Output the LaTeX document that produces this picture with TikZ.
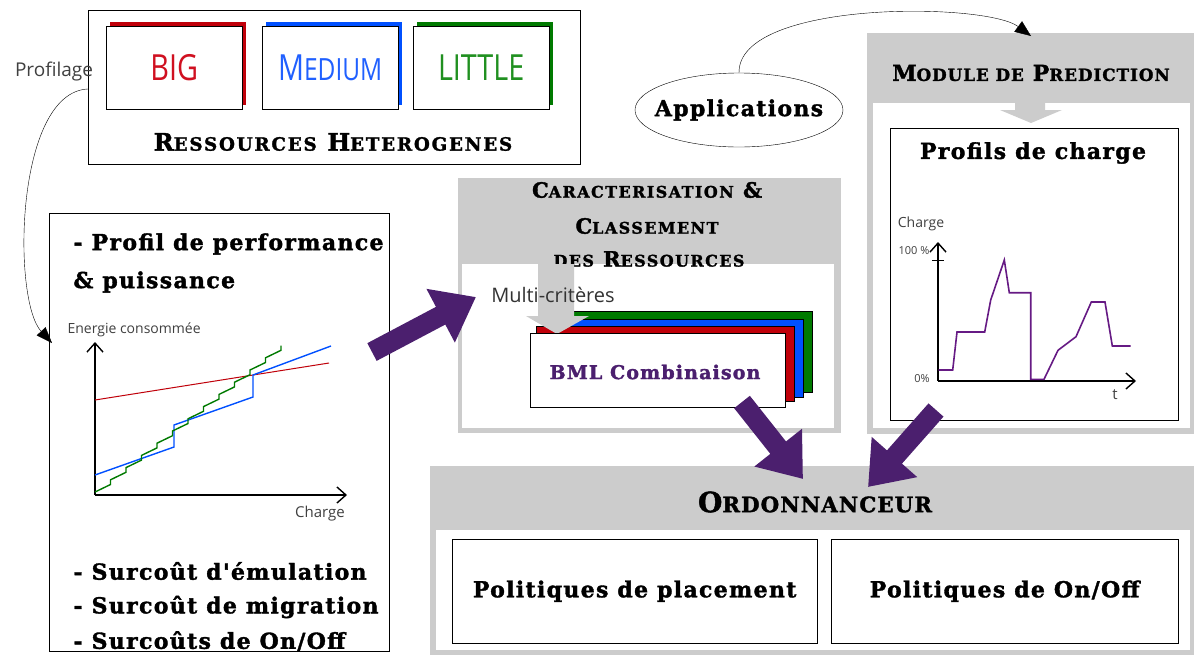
\documentclass[tikz,border=0pt]{standalone}
\usepackage{fontspec}
\usepackage{graphicx}
\usetikzlibrary{shapes.geometric,arrows.meta}
\newfontfamily\heavy{DejaVu Serif}[BoldFeatures={FakeBold=1.6}]
\newfontfamily\lite{Open Sans}
\definecolor{grayblk}{HTML}{CCCCCC}
\definecolor{purp}{HTML}{4B1F6E}
\definecolor{cred}{HTML}{C0000A}
\definecolor{cblue}{HTML}{0050FF}
\definecolor{cgreen}{HTML}{007A00}
\definecolor{tred}{HTML}{D01020}
\definecolor{tblue}{HTML}{2060FF}
\definecolor{tgreen}{HTML}{209020}
\definecolor{ltext}{HTML}{404040}
\newcommand\SCx[2]{#1\scalebox{0.76}{#2}}
\newcommand\hv[2]{\heavy\bfseries\fontsize{#1}{#1}\selectfont\addfontfeature{LetterSpace=#2}}
\tikzset{
  box/.style={draw, inner sep=0pt, anchor=north west, fill=white},
  litetxt/.style={font=\lite, text=ltext},
  bigarrow/.style={line width=20pt, purp, -{Triangle[length=40pt,width=58pt]}},
}
\begin{document}
\begin{tikzpicture}[x=1pt,y=-1pt]
\useasboundingbox (0,0) rectangle (1194,654);
% ---------- Ressources heterogenes
\node[box, minimum width=492pt, minimum height=154pt] (res) at (88,10) {};
\fill[cred] (110,22) rectangle (246,105);
\node[box, minimum width=136pt, minimum height=83pt] (big) at (106,26) {};
\fill[cblue] (266,22) rectangle (402,105);
\node[box, minimum width=136pt, minimum height=83pt] (med) at (262,26) {};
\fill[cgreen] (417,22) rectangle (553,105);
\node[box, minimum width=136pt, minimum height=83pt] (lit) at (413,26) {};
\node[font=\lite\fontsize{36}{36}\selectfont, text=tred] at (big.center) {\scalebox{0.8}[1]{BIG}};
\node[font=\lite\fontsize{36}{36}\selectfont, text=tblue] at (med.center) {\scalebox{0.8}[1]{M\scalebox{0.85}{EDIUM}}};
\node[font=\lite\fontsize{36}{36}\selectfont, text=tgreen] at (lit.center) {\scalebox{0.8}[1]{LITTLE}};
\node[font=\hv{24}{10}] at (333,142) {\SCx{R}{ESSOURCES} \SCx{H}{ETEROGENES}};
\node[litetxt, font=\lite\fontsize{19}{19}\selectfont] (prof) at (54,72) {Profilage};
% ---------- left box
\node[box, minimum width=340pt, minimum height=438pt] (left) at (49,213) {};
\begin{scope}[font=\hv{22}{6}]
\node[anchor=west] at (70,244) {- Profil de performance};
\node[anchor=west] at (70,282) {\& puissance};
\node[anchor=west] at (70,571) {- Surcoût d'émulation};
\node[anchor=west] at (70,607) {- Surcoût de migration};
\node[anchor=west] at (70,641) {- Surcoûts de On/Off};
\end{scope}
\coordinate (profin) at (52,343);
\draw[-{Triangle[length=16pt,width=12pt]}] (res.west |- 0,89) .. controls (15,92) and (12,300) .. (profin);
% chart
\draw[line width=1.4pt, -{Straight Barb[length=9pt,width=16pt]}] (95,495) -- (95,342);
\draw[line width=1.4pt, -{Straight Barb[length=9pt,width=16pt]}] (95,495) -- (347,495);
\node[litetxt, font=\lite\fontsize{14}{14}\selectfont, anchor=west] at (64,330) {Energie consommée};
\node[litetxt, font=\lite\fontsize{15}{15}\selectfont] at (320,514) {Charge};
\draw[cred, line width=1pt] (95,400) -- (329,363);
\draw[cblue, line width=1.4pt] (95,475) -- (174,447) -- (174,425) -- (253,397) -- (253,375) -- (331,346);
\draw[cgreen, line width=1.4pt] (95,492)
  \foreach \i in {0,...,11} { -- ++(15.5,-7.5) -- ++(0,-4.7) };
% ---------- caracterisation block
\node[box, draw=grayblk, fill=grayblk, minimum width=382pt, minimum height=254pt] (carac) at (458,178) {};
\fill[white] (462,264) rectangle (834,428);
\begin{scope}[font=\hv{21}{9}]
\node at (647,190) {\SCx{C}{ARACTERISATION} \&};
\node at (647,226) {\SCx{C}{LASSEMENT}};
\node at (649,259) {\scalebox{0.76}{DES} \SCx{R}{ESSOURCES}};
\end{scope}
\fill[cgreen] (554,311) rectangle (812,392);
\draw[black, line width=0.8pt] (554,311) rectangle (812,392);
\fill[cblue] (545,319) rectangle (803,397);
\draw[black, line width=0.8pt] (545,319) rectangle (803,397);
\fill[cred] (536,326) rectangle (794,401);
\draw[black, line width=0.8pt] (536,326) rectangle (794,401);
\fill[grayblk] (538,264) -- (574,264) -- (574,316) -- (589,316) -- (557,334) -- (526,316) -- (538,316) -- cycle;
\node[litetxt, font=\lite\fontsize{20}{20}\selectfont, text=black!80] at (553,295) {Multi-critères};
\node[box, minimum width=255pt, minimum height=74pt] (bml) at (530,333) {};
\node[font=\hv{19}{6}, text=purp] at (655,372) {BML Combinaison};
% ---------- right block
\node[box, draw=grayblk, fill=grayblk, minimum width=330pt, minimum height=400pt] (pred) at (867,33) {};
\fill[white] (873,103) rectangle (1190,428);
\node[font=\hv{22}{6}] at (1031,73) {\SCx{M}{ODULE DE} \SCx{P}{REDICTION}};
\fill[grayblk] (1015,103) -- (1045,103) -- (1045,110) -- (1062,110) -- (1031,123) -- (1000,110) -- (1015,110) -- cycle;
\node[box, minimum width=288pt, minimum height=292pt] (charge) at (890,128) {};
\node[font=\hv{22}{6}] at (1033,153) {Profils de charge};
\node[litetxt, font=\lite\fontsize{14}{14}\selectfont] at (921,224) {Charge};
\node[litetxt, font=\lite\fontsize{11}{11}\selectfont] at (914,251) {100 \%};
\node[litetxt, font=\lite\fontsize{11}{11}\selectfont] at (922,379) {0\%};
\node[litetxt, font=\lite\fontsize{15}{15}\selectfont] at (1115,395) {t};
\draw[line width=1.4pt, -{Straight Barb[length=9pt,width=16pt]}] (938,381) -- (938,242);
\draw[line width=1.4pt, -{Straight Barb[length=9pt,width=16pt]}] (938,381) -- (1136,381);
\draw (932,260) -- (944,260);
\draw[purp!85!magenta, line width=1.6pt] (938.7,370) -- (952.7,370) -- (957,332) -- (984.7,332) -- (990.7,300) -- (1004.3,260) -- (1009.3,292.7) -- (1030.7,292.7) -- (1030.7,379.3) -- (1044,379.3) -- (1058,350.3) -- (1076,336.7) -- (1091.3,302) -- (1105,302) -- (1112.3,346) -- (1130.7,346);
% applications
\node[draw, ellipse, inner sep=0pt, minimum width=208pt, minimum height=74pt] (app) at (739,110) {};
\node[font=\hv{22}{6}] at (app.center) {Applications};
\coordinate (predin) at (1031,36);
\draw[-{Triangle[length=16pt,width=13pt]}] (app.north) .. controls (738,0) and (985,2) .. (predin);
% ---------- ordonnanceur
\node[box, draw=grayblk, fill=grayblk, minimum width=764pt, minimum height=190pt] (ord) at (430,466) {};
\fill[white] (436,530) rectangle (1190,650);
\node[font=\hv{28}{5}] at (815,502) {\SCx{O}{RDONNANCEUR}};
\node[box, minimum width=365pt, minimum height=104pt] (place) at (452,539) {};
\node[box, minimum width=347pt, minimum height=104pt] (onoff) at (831,539) {};
\node[font=\hv{22}{6}] at (place.center) {Politiques de placement};
\node[font=\hv{22}{6}] at (onoff.center) {Politiques de On/Off};
% purple arrows
\coordinate (a1s) at (372,352); \coordinate (a1e) at (476,297);
\coordinate (a2s) at (742,402); \coordinate (a2e) at (803,479);
\coordinate (a3s) at (936,410); \coordinate (a3e) at (868,487);
\draw[bigarrow] (a1s) -- (a1e);
\draw[bigarrow] (a2s) -- (a2e);
\draw[bigarrow] (a3s) -- (a3e);
\end{tikzpicture}
\end{document}
